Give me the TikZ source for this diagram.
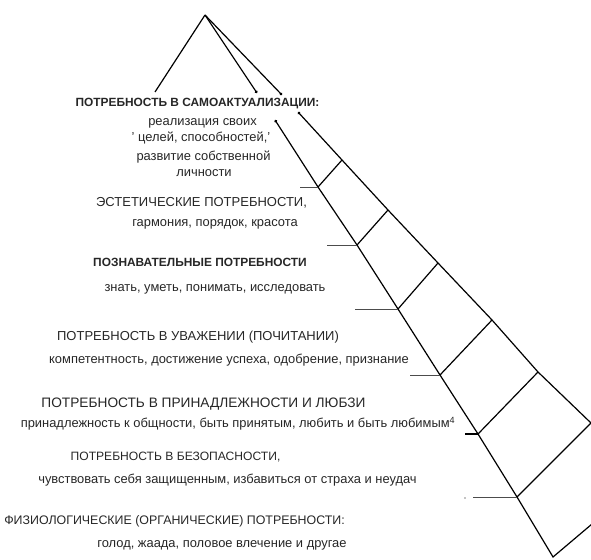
\documentclass[tikz,border=0pt]{standalone}
\usepackage{fontspec}
\setmainfont{Liberation Sans}
\usetikzlibrary{arrows.meta}

\begin{document}
\begin{tikzpicture}
[x=1pt,y=-1pt,
every node/.style={inner sep=0pt,anchor=base,text=black!85},
caps/.style={font=\fontsize{#1}{15}\selectfont},
caps/.default=13,
capsb/.style={font=\bfseries\fontsize{11.9}{14}\selectfont},
small/.style={font=\fontsize{12.9}{15}\selectfont},
edge/.style={line width=1.2pt},
tick/.style={line width=0.9pt,black!70},
dotend/.style={-{Circle[length=2.8pt]}},
dotstart/.style={{Circle[length=2.8pt]}-}]
\useasboundingbox (0,0) rectangle (591,559);
\clip (0,0) rectangle (591,559);

% apex and the three upper lines
\coordinate (apex) at (205,15);
\coordinate (left) at (155,92);
\coordinate (mid) at (257,93);
\coordinate (top) at (282,95);

% outer edge
\coordinate (o0) at (298,112);
\coordinate (o1) at (342,160);
\coordinate (o2) at (388,210);
\coordinate (o3) at (438,263);
\coordinate (o4) at (492,320);
\coordinate (o5) at (538,372);
\coordinate (o6) at (591,423);
\coordinate (oend) at (625,458);

% inner edge
\coordinate (i0) at (275,120);
\coordinate (i1) at (318,187);
\coordinate (i2) at (357,245);
\coordinate (i3) at (398,309);
\coordinate (i4) at (440,375);
\coordinate (i5) at (478,434);
\coordinate (i6) at (517,497);
\coordinate (i7) at (553,557);
\coordinate (bend) at (605,513);

% ticks
\coordinate (t1) at (300,187);
\coordinate (t2) at (327,245);
\coordinate (t3) at (355,309);
\coordinate (t4) at (410,375);
\coordinate (t5) at (465,434);
\coordinate (t6) at (473,497);

\draw[edge] (apex) -- (left);
\draw[edge,dotend] (apex) -- (mid);
\draw[edge,dotend] (apex) -- (top);
\draw[edge,dotstart] (o0) -- (o1) -- (o2) -- (o3) -- (o4) -- (o5) -- (o6) -- (oend);
\draw[edge,dotstart] (i0) -- (i1) -- (i2) -- (i3) -- (i4) -- (i5) -- (i6) -- (i7) -- (bend);
\foreach \k in {1,...,6}
  \draw[edge] (i\k) -- (o\k);
\foreach \k in {1,2,3,4,6}
  \draw[tick] (t\k) -- (i\k);
\draw[tick,line width=1.8pt,black] (t5) -- (i5);
\fill (465,498) circle (0.7pt);

% levels
\node[capsb] (self) at (197.5,106.5) {ПОТРЕБНОСТЬ В САМОАКТУАЛИЗАЦИИ:};
\node[small] (self1) at (202.5,125.5) {реализация своих};
\node[small] (self2) at (201,141.5) {' целей, способностей,'};
\node[small] (self3) at (203.5,160.5) {развитие собственной};
\node[small] (self4) at (204,176.5) {личности};
\node[caps] (aesth) at (201.5,206.5) {ЭСТЕТИЧЕСКИЕ ПОТРЕБНОСТИ,};
\node[small] (aesth1) at (215,226.5) {гармония, порядок, красота};
\node[capsb] (cogn) at (200,266.5) {ПОЗНАВАТЕЛЬНЫЕ ПОТРЕБНОСТИ};
\node[small] (cogn1) at (215,291.5) {знать, уметь, понимать, исследовать};
\node[caps] (esteem) at (198,340.5) {ПОТРЕБНОСТЬ В УВАЖЕНИИ (ПОЧИТАНИИ)};
\node[small] (esteem1) at (229,363.5) {компетентность, достижение успеха, одобрение, признание};
\node[caps=13.7] (love) at (203.5,407) {ПОТРЕБНОСТЬ В ПРИНАДЛЕЖНОСТИ И ЛЮБЗИ};
\node[small] (love1) at (238,427.5) {принадлежность к общности, быть принятым, любить и быть любимым\textsuperscript{4}};
\node[caps=12.1] (safe) at (175.5,460) {ПОТРЕБНОСТЬ В БЕЗОПАСНОСТИ,};
\node[small] (safe1) at (227.5,483.5) {чувствовать себя защищенным, избавиться от страха и неудач};
\node[caps=12.4] (phys) at (174.5,524.5) {ФИЗИОЛОГИЧЕСКИЕ (ОРГАНИЧЕСКИЕ) ПОТРЕБНОСТИ:};
\node[small] (phys1) at (222,547.5) {голод, жаада, половое влечение и другае};
\end{tikzpicture}
\end{document}
